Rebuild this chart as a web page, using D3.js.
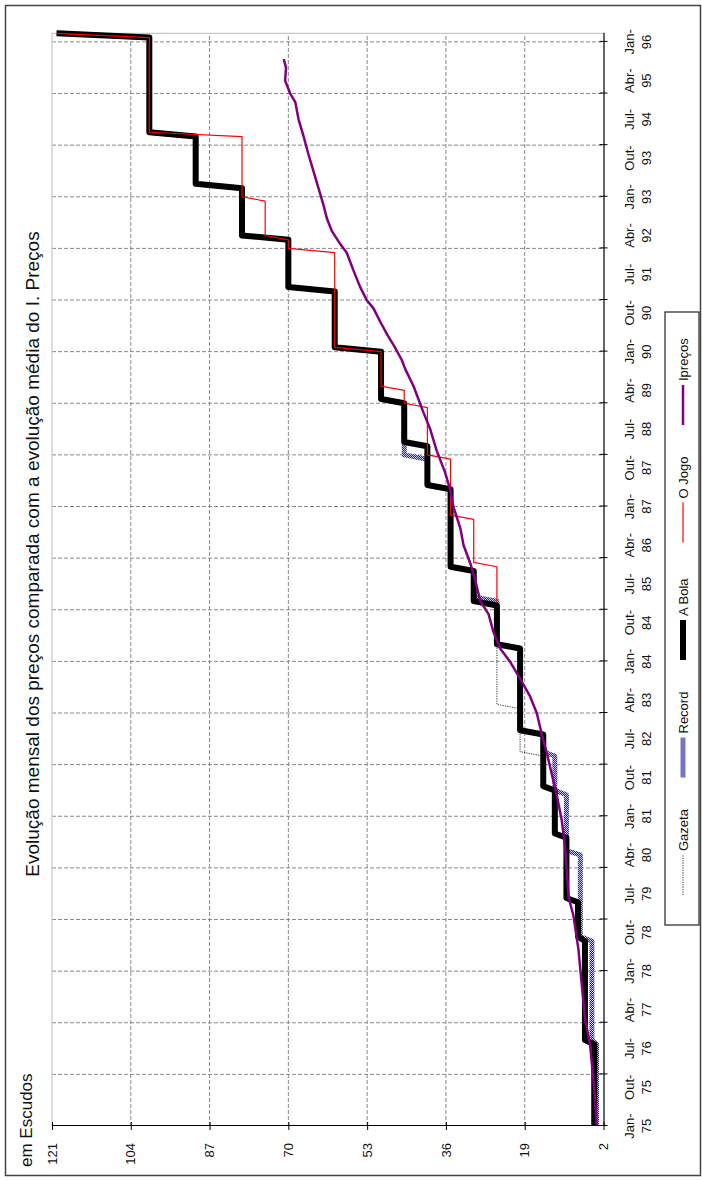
<!DOCTYPE html>
<html>
<head>
<meta charset="utf-8">
<script src="https://cdn.jsdelivr.net/npm/d3@7"></script>
<style>
  body { margin: 0; background: #fff; }
  svg { display: block; font-family: "Liberation Sans", Arial, sans-serif; }
</style>
</head>
<body>
<svg id="chart" width="702" height="1180"></svg>
<script>
// Price changes per newspaper: [month, price in escudos]
const gazeta = [
	['1975-01', 4], ['1976-09', 6], ['1978-09', 7.5], ['1979-06', 10], ['1980-09', 12.5],
	['1981-08', 15], ['1982-04', 20], ['1983-03', 25], ['1985-03', 30], ['1985-11', 35],
	['1987-06', 40], ['1988-04', 45], ['1989-02', 50], ['1990-02', 60], ['1991-04', 70],
	['1992-04', 80], ['1993-04', 90], ['1994-04', 100], ['1996-03', 120]
];
const record = [
	['1975-01', 3.5], ['1976-09', 4.5], ['1978-09', 7], ['1980-05', 10], ['1981-07', 12.5],
	['1982-04', 15], ['1982-09', 20], ['1984-05', 25], ['1985-04', 30], ['1985-11', 35],
	['1987-06', 40], ['1988-01', 45], ['1989-02', 50], ['1990-02', 60], ['1991-04', 70],
	['1992-04', 80], ['1993-04', 90], ['1994-04', 100], ['1996-03', 120]
];
const aBola = [
	['1975-01', 4], ['1976-09', 6], ['1978-09', 7.5], ['1979-06', 10], ['1980-09', 12.5],
	['1981-08', 15], ['1982-09', 20], ['1984-05', 25], ['1985-03', 30], ['1985-11', 35],
	['1987-06', 40], ['1988-04', 45], ['1989-02', 50], ['1990-02', 60], ['1991-04', 70],
	['1992-04', 80], ['1993-04', 90], ['1994-04', 100], ['1996-03', 120]
];
const oJogo = [
	['1985-03', 25], ['1985-12', 30], ['1986-11', 35], ['1988-01', 40], ['1989-01', 45],
	['1989-05', 50], ['1990-02', 60], ['1992-01', 70], ['1992-04', 75], ['1993-01', 80],
	['1994-04', 100], ['1996-03', 120]
];
// Price index
const iPrecos = [
	['1975-01', 3.5], ['1975-07', 3.8], ['1975-12', 4.2], ['1976-08', 4.9], ['1977-02', 6.0],
	['1977-10', 6.7], ['1978-06', 7.4], ['1979-02', 8.5], ['1979-06', 9.5], ['1979-12', 9.9],
	['1980-06', 10.3], ['1980-12', 11.0], ['1981-06', 12.1], ['1981-11', 13.2], ['1982-04', 14.3],
	['1982-08', 15.3], ['1983-01', 16.4], ['1983-05', 17.9], ['1983-09', 20.0], ['1984-01', 22.2],
	['1984-04', 24.3], ['1984-08', 25.8], ['1984-12', 26.8], ['1985-03', 28.6], ['1985-08', 29.7],
	['1985-12', 30.8], ['1986-04', 32.2], ['1986-08', 32.9], ['1987-01', 34.4], ['1987-05', 35.1],
	['1987-09', 36.2], ['1988-02', 38.0], ['1988-07', 39.4], ['1988-11', 40.9], ['1989-05', 43.0],
	['1989-09', 44.8], ['1989-11', 45.5], ['1990-02', 47.0], ['1990-05', 48.7], ['1990-08', 50.2],
	['1990-11', 51.6], ['1991-01', 53.1], ['1991-04', 54.5], ['1991-08', 56.0], ['1991-12', 57.4],
	['1992-02', 58.8], ['1992-05', 60.6], ['1992-08', 61.7], ['1992-11', 62.4], ['1993-03', 63.5],
	['1993-07', 64.6], ['1993-11', 65.7], ['1994-03', 66.7], ['1994-07', 67.8], ['1994-11', 68.5],
	['1995-01', 69.6], ['1995-04', 70.7], ['1995-07', 70.5], ['1995-09', 71.0]
];

const lastMonth = '1996-03';
const valueTicks = [2, 19, 36, 53, 70, 87, 104, 121];
const monthNames = ['Jan', 'Fev', 'Mar', 'Abr', 'Mai', 'Jun', 'Jul', 'Ago', 'Set', 'Out', 'Nov', 'Dez'];
const timeLabels = [
	'Jan-75', 'Out-75', 'Jul-76', 'Abr-77', 'Jan-78', 'Out-78', 'Jul-79', 'Abr-80', 'Jan-81', 'Out-81',
	'Jul-82', 'Abr-83', 'Jan-84', 'Out-84', 'Jul-85', 'Abr-86', 'Jan-87', 'Out-87', 'Jul-88', 'Abr-89',
	'Jan-90', 'Out-90', 'Jul-91', 'Abr-92', 'Jan-93', 'Out-93', 'Jul-94', 'Abr-95', 'Jan-96'
];
const yearTicks = d3.range(1975, 1997);

const title = 'Evolução mensal dos preços comparada com a evolução média do I. Preços';
const unitLabel = 'em Escudos';

const series = [
	{ name: 'Gazeta', data: gazeta, step: true, stroke: '#333', width: 1, dash: '1.2,1.2' },
	{ name: 'Record', data: record, step: true, stroke: 'url(#dots)', width: 5 },
	{ name: 'A Bola', data: aBola, step: true, stroke: '#000', width: 6 },
	{ name: 'O Jogo', data: oJogo, step: true, stroke: '#ff0000', width: 1.2 },
	{ name: 'Ipreços', data: iPrecos, step: false, stroke: '#800080', width: 2.5 }
];

function monthIndex(s) {
	const [yy, mm] = s.split('-').map(Number);
	return (yy - 1975) * 12 + (mm - 1);
}

// Monthly line: a price holds until the month before the next change.
function stepPoints(changes) {
	const pts = [];
	changes.forEach(([d, v], i) => {
		const m = monthIndex(d);
		const next = changes[i + 1];
		const until = next ? monthIndex(next[0]) - 1 : monthIndex(lastMonth);
		pts.push([m, v]);
		if (until > m) pts.push([until, v]);
	});
	return pts;
}

const svg = d3.select('#chart');

const defs = svg.append('defs');
const pat = defs.append('pattern').attr('id', 'dots').attr('patternUnits', 'userSpaceOnUse').attr('width', 2).attr('height', 2);
pat.append('rect').attr('width', 2).attr('height', 2).attr('fill', '#c4c4ec');
pat.append('rect').attr('width', 1).attr('height', 1).attr('fill', '#2626a0');
pat.append('rect').attr('x', 1).attr('y', 1).attr('width', 1).attr('height', 1).attr('fill', '#2626a0');

svg.append('rect').attr('width', 702).attr('height', 1180).attr('fill', '#fff');

// outer frame
svg.append('rect')
	.attr('x', 5.5).attr('y', 5.5).attr('width', 695).attr('height', 1170)
	.attr('fill', 'none').attr('stroke', '#444').attr('stroke-width', 1.5);

// The chart is printed sideways: draw it in a 1180x702 frame and turn it.
const g = svg.append('g').attr('transform', 'translate(0,1180) rotate(-90)');

const x = d3.scaleLinear().domain([0, monthIndex(lastMonth)]).range([54, 54 + monthIndex(lastMonth) * 4.302]);
const y = d3.scaleLinear().domain([2, 121]).range([603.5, 52]);
const [x0, x1] = x.range();

// grid
const grid = g.append('g').attr('stroke', '#8a8a8a').attr('stroke-dasharray', '4,2').attr('stroke-width', 1);
grid.selectAll('.vg')
	.data(valueTicks.filter(v => v > 2 && v < 121))
	.join('line')
	.attr('x1', x0).attr('x2', x1)
	.attr('y1', d => y(d)).attr('y2', d => y(d));
grid.selectAll('.tg')
	.data(yearTicks.slice(1))
	.join('line')
	.attr('x1', d => x((d - 1975) * 12)).attr('x2', d => x((d - 1975) * 12))
	.attr('y1', y(121)).attr('y2', y(2));

// plot border (light) on the far sides
g.append('path')
	.attr('d', `M${x0},${y(121)}H${x1}V${y(2)}`)
	.attr('fill', 'none').attr('stroke', '#c8c8c8').attr('stroke-width', 1.2);

// series
const stepLine = d3.line().x(d => x(d[0])).y(d => y(d[1]));
series.forEach(s => {
	const pts = s.step ? stepPoints(s.data) : s.data.map(([d, v]) => [monthIndex(d), v]);
	g.append('path')
		.datum(pts)
		.attr('d', stepLine)
		.attr('fill', 'none')
		.attr('stroke', s.stroke)
		.attr('stroke-width', s.width)
		.attr('stroke-dasharray', s.dash || null)
		.attr('stroke-linejoin', 'round');
});

// value axis
const yAxis = g.append('g')
	.attr('transform', `translate(${x0},0)`)
	.call(d3.axisLeft(y).tickValues(valueTicks).tickSize(4).tickSizeOuter(0).tickPadding(13));
yAxis.select('.domain').attr('stroke', '#000').attr('stroke-width', 1.2);
yAxis.selectAll('.tick line').attr('x1', 4).attr('stroke', '#000');
yAxis.selectAll('.tick text').attr('font-size', 13).attr('fill', '#111').attr('font-family', null);

// time axis
const xAxis = g.append('g')
	.attr('transform', `translate(0,${y(2)})`)
	.call(d3.axisBottom(x).tickValues(yearTicks.map(d => (d - 1975) * 12)).tickSize(4).tickSizeOuter(0).tickFormat(''));
xAxis.select('.domain').attr('stroke', '#000').attr('stroke-width', 1.2);
xAxis.selectAll('.tick line').attr('y1', -4).attr('stroke', '#000');

const tl = g.append('g').attr('font-size', 13).attr('fill', '#111').attr('text-anchor', 'middle');
timeLabels.forEach(lbl => {
	const [mon, yy] = lbl.split('-');
	const m = (Number(yy) - 75) * 12 + monthNames.indexOf(mon);
	const t = tl.append('text').attr('x', x(m));
	t.append('tspan').attr('x', x(m)).attr('y', y(2) + 30).text(mon + '-');
	t.append('tspan').attr('x', x(m)).attr('y', y(2) + 47.5).text(yy);
});

// titles
g.append('text')
	.attr('x', 626).attr('y', 39)
	.attr('text-anchor', 'middle').attr('font-size', 19).attr('fill', '#111')
	.text(title);
g.append('text')
	.attr('x', 13).attr('y', 32)
	.attr('font-size', 17).attr('fill', '#111')
	.text(unitLabel);

// legend
const legend = g.append('g').attr('transform', 'translate(255,665)');
legend.append('rect')
	.attr('width', 613).attr('height', 34)
	.attr('fill', '#fff').attr('stroke', '#222').attr('stroke-width', 1.2);
const item = legend.selectAll('.item')
	.data(series)
	.join('g')
	.attr('transform', (d, i) => `translate(${30 + i * 117.5},18)`);
item.append('line')
	.attr('x2', 40)
	.attr('stroke', d => d.stroke)
	.attr('stroke-width', d => d.width)
	.attr('stroke-dasharray', d => d.dash || null);
item.append('text')
	.attr('x', 44).attr('y', 4.5)
	.attr('font-size', 13).attr('fill', '#111')
	.text(d => d.name);
</script>
</body>
</html>
